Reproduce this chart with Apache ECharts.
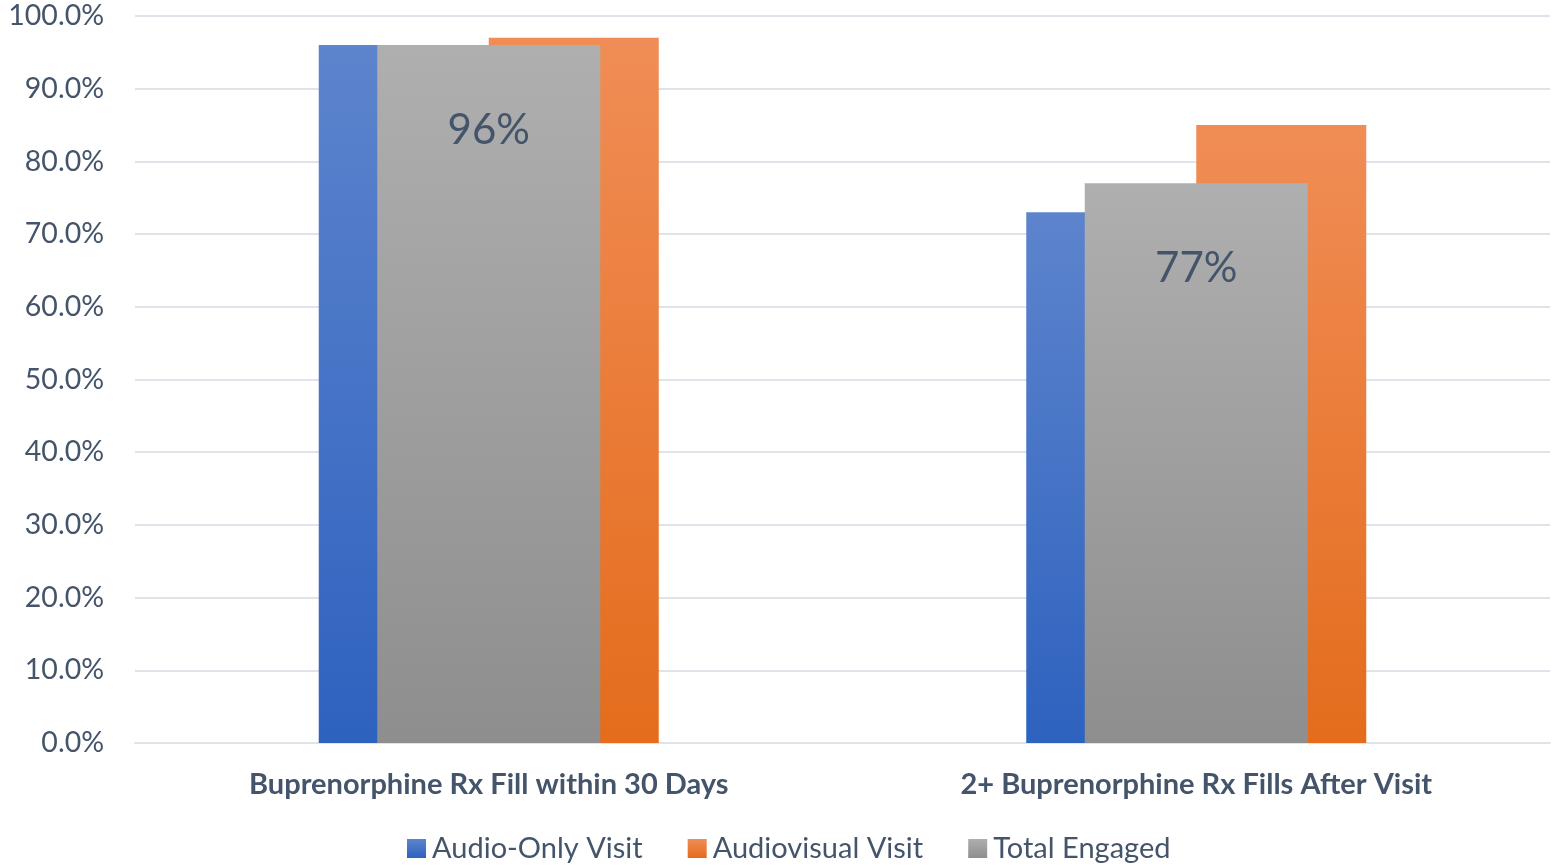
<!DOCTYPE html>
<html>
<head>
<meta charset="utf-8">
<script src="https://cdn.jsdelivr.net/npm/echarts@6/dist/echarts.min.js"></script>
<style>
  html, body { margin: 0; padding: 0; background: #ffffff; }
  #chart { width: 1555px; height: 865px; }
</style>
</head>
<body>
<div id="chart"></div>
<script>
// Chart data
const categories = ['Buprenorphine Rx Fill within 30 Days', '2+ Buprenorphine Rx Fills After Visit'];
const audioOnly = [96, 73];
const audiovisual = [97, 85];
const totalEngaged = [96, 77];
const yTicks = { min: 0, max: 100, interval: 10 };

const FONT = 'Lato';
const TEXT = '#44546a';

function vgrad(top, bottom) {
  return new echarts.graphic.LinearGradient(0, 0, 0, 1, [
    { offset: 0, color: top },
    { offset: 1, color: bottom }
  ]);
}

const chart = echarts.init(document.getElementById('chart'), null, { renderer: 'canvas' });

chart.setOption({
  backgroundColor: '#ffffff',
  animation: false,
  textStyle: { fontFamily: FONT },
  grid: { left: 135, right: 5, top: 16, bottom: 122, containLabel: false },
  legend: {
    left: 402,
    top: 829,
    itemWidth: 19,
    itemHeight: 19,
    itemGap: 45,
    icon: 'rect',
    textStyle: { fontFamily: FONT, fontSize: 29, color: TEXT, padding: [0, 0, 0, 1] },
    data: ['Audio-Only Visit', 'Audiovisual Visit', 'Total Engaged']
  },
  xAxis: [
    {
      type: 'category',
      data: categories,
      axisLine: { show: true, lineStyle: { color: '#dfe3ea', width: 2 } },
      axisTick: { show: false },
      axisLabel: { fontFamily: FONT, fontSize: 29, fontWeight: 'bold', color: TEXT, margin: 27 }
    },
    {
      type: 'category',
      data: categories,
      show: false
    }
  ],
  yAxis: {
    type: 'value',
    min: yTicks.min,
    max: yTicks.max,
    interval: yTicks.interval,
    axisLine: { show: false },
    axisTick: { show: false },
    splitLine: { lineStyle: { color: '#dfe3ea', width: 2 } },
    axisLabel: {
      fontFamily: FONT, fontSize: 28.5, color: TEXT, margin: 31,
      formatter: v => v.toFixed(1) + '%'
    }
  },
  series: [
    {
      name: 'Audio-Only Visit',
      type: 'bar',
      xAxisIndex: 0,
      data: audioOnly,
      barWidth: 170,
      barGap: '0%',
      itemStyle: { color: vgrad('#5d84cd', '#2e62bf') }
    },
    {
      name: 'Audiovisual Visit',
      type: 'bar',
      xAxisIndex: 0,
      data: audiovisual,
      barWidth: 170,
      barGap: '0%',
      itemStyle: { color: vgrad('#f08d56', '#e46c1c') }
    },
    {
      name: 'Total Engaged',
      type: 'bar',
      xAxisIndex: 1,
      data: totalEngaged,
      barWidth: 223,
      itemStyle: { color: vgrad('#afafaf', '#8e8e8e') },
      label: {
        show: true,
        position: 'insideTop',
        distance: 64,
        formatter: p => p.value + '%',
        fontFamily: FONT,
        fontSize: 42,
        color: TEXT
      }
    }
  ]
});
</script>
</body>
</html>
